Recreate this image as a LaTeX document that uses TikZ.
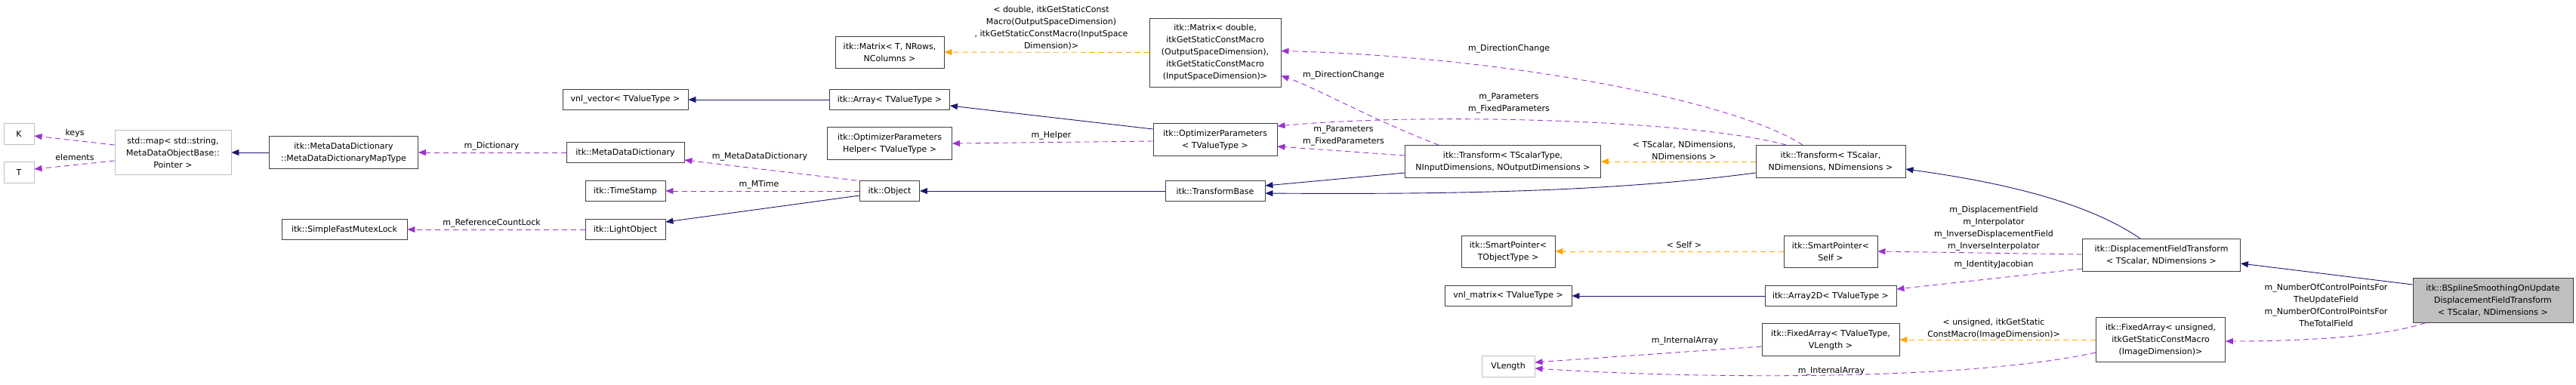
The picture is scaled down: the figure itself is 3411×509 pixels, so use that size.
\documentclass[tikz,border=0pt]{standalone}
\usepackage{fontspec}
\setmainfont{DejaVu Sans}
\usetikzlibrary{arrows.meta}
\newcommand{\fs}{\fontsize{11pt}{16pt}\selectfont}
\begin{document}
\begin{tikzpicture}[x=1pt,y=-1pt,
  box/.style={draw=black!75,fill=white,line width=0.9pt,align=center,inner sep=0pt,font=\fs},
  gbox/.style={box,draw=black!25},
  lbl/.style={font=\fs,align=center,inner sep=0pt},
  tip/.style={-{Triangle[length=10pt,width=8pt]}},
  inh/.style={tip,draw={rgb,255:red,25;green,25;blue,112},line width=0.9pt},
  use/.style={tip,draw={rgb,255:red,154;green,50;blue,205},dash pattern=on 7pt off 5pt,line width=0.9pt},
  tpl/.style={tip,draw={rgb,255:red,255;green,165;blue,0},dash pattern=on 7pt off 5pt,line width=0.9pt}]
\useasboundingbox (0,0) rectangle (3411,509);
% nodes
\node[gbox,minimum width=40,minimum height=28] (K) at (25,177) {K};
\node[gbox,minimum width=40,minimum height=28] (T) at (25,228) {T};
\node[gbox,minimum width=154,minimum height=59] (map) at (229,202) {std::map< std::string,\\ MetaDataObjectBase::\\ Pointer >};
\node[box,minimum width=197,minimum height=43] (mtype) at (455,202) {itk::MetaDataDictionary\\::MetaDataDictionaryMapType};
\node[box,minimum width=166,minimum height=27] (mutex) at (456,304) {itk::SimpleFastMutexLock};
\node[box,minimum width=144,minimum height=42] (matT) at (1178,69) {itk::Matrix< T, NRows,\\ NColumns >};
\node[box,minimum width=166,minimum height=27] (vnlv) at (828,132) {vnl\_vector< TValueType >};
\node[box,minimum width=159,minimum height=27] (arr) at (1178,132) {itk::Array< TValueType >};
\node[box,minimum width=165,minimum height=43] (help) at (1178,190) {itk::OptimizerParameters\\Helper< TValueType >};
\node[box,minimum width=156,minimum height=27] (mdd) at (828,202) {itk::MetaDataDictionary};
\node[box,minimum width=106,minimum height=27] (ts) at (828,253) {itk::TimeStamp};
\node[box,minimum width=79,minimum height=27] (obj) at (1178,253) {itk::Object};
\node[box,minimum width=106,minimum height=27] (lo) at (828,304) {itk::LightObject};
\node[box,minimum width=174,minimum height=91] (matD) at (1609,69.5) {itk::Matrix< double,\\ itkGetStaticConstMacro\\(OutputSpaceDimension),\\ itkGetStaticConstMacro\\(InputSpaceDimension)>};
\node[box,minimum width=164,minimum height=43] (op) at (1609,185) {itk::OptimizerParameters\\< TValueType >};
\node[box,minimum width=132,minimum height=27] (tb) at (1609,253) {itk::TransformBase};
\node[box,minimum width=259,minimum height=43] (t1) at (1990,214) {itk::Transform< TScalarType,\\ NInputDimensions, NOutputDimensions >};
\node[box,minimum width=124,minimum height=42] (spt) at (1997,333) {itk::SmartPointer<\\ TObjectType >};
\node[box,minimum width=168,minimum height=27] (vnlm) at (1997,392) {vnl\_matrix< TValueType >};
\node[gbox,minimum width=70,minimum height=28] (vl) at (1997,485) {VLength};
\node[box,minimum width=198,minimum height=43] (t2) at (2424,214) {itk::Transform< TScalar,\\ NDimensions, NDimensions >};
\node[box,minimum width=124,minimum height=42] (sps) at (2424,333) {itk::SmartPointer<\\ Self >};
\node[box,minimum width=174,minimum height=27] (a2d) at (2424,392) {itk::Array2D< TValueType >};
\node[box,minimum width=182,minimum height=43] (fav) at (2424,450) {itk::FixedArray< TValueType,\\ VLength >};
\node[box,minimum width=209,minimum height=43] (dft) at (2862,338) {itk::DisplacementFieldTransform\\< TScalar, NDimensions >};
\node[box,minimum width=171,minimum height=59] (fau) at (2861,450) {itk::FixedArray< unsigned,\\ itkGetStaticConstMacro\\ (ImageDimension)>};
\node[box,fill=black!25,minimum width=212,minimum height=59] (bs) at (3301,398) {itk::BSplineSmoothingOnUpdate\\DisplacementFieldTransform\\ < TScalar, NDimensions >};
% edges
\draw[use] ([yshift=10pt]map.west) -- ([yshift=-3pt]K.east);
\draw[use] ([yshift=-11pt]map.west) -- ([yshift=4pt]T.east);
\draw[inh] (mtype) -- (map);
\draw[use] (mdd) -- (mtype);
\draw[use] (lo) -- (mutex);
\draw[inh] ([yshift=-6pt]obj.west) -- ([yshift=10pt]lo.east);
\draw[use] (obj) -- (ts);
\draw[use] ([xshift=-4pt]obj.north west) -- ([yshift=-10pt]mdd.east);
\draw[inh] (arr) -- (vnlv);
\draw[inh] ([yshift=14pt]op.west) -- ([yshift=-8pt]arr.east);
\draw[use] ([yshift=-2pt]op.west) -- (help.east);
\draw[inh] (tb) -- (obj);
\draw[tpl] (matD) -- (matT);
\draw[inh] ([yshift=-15pt]t1.west) -- ([yshift=7pt]tb.east);
\draw[inh] ([yshift=-15pt]t2.west) .. controls (2150,252) and (1950,258) .. ([yshift=-3pt]tb.east);
\draw[use] ([xshift=-85pt]t1.north) .. controls (1820,160) and (1740,115) .. ([yshift=-31pt]matD.east);
\draw[use] ([yshift=8pt]t1.west) -- ([yshift=-9pt]op.east);
\draw[use] ([xshift=-37pt]t2.north) .. controls (2300,135) and (2000,75) .. ([yshift=2pt]matD.east);
\draw[use] ([xshift=-59pt]t2.north) .. controls (2250,160) and (1900,148) .. ([yshift=18pt]op.east);
\draw[tpl] (t2) -- (t1);
\draw[inh] ([xshift=-28pt]dft.north) .. controls (2760,265) and (2640,240) .. ([yshift=-10pt]t2.east);
\draw[use] ([yshift=1pt]dft.west) -- (sps.east);
\draw[tpl] (sps) -- (spt);
\draw[use] ([yshift=-18pt]dft.west) -- ([yshift=9pt]a2d.east);
\draw[inh] (a2d) -- (vnlm);
\draw[tpl] (fau) -- (fav);
\draw[use] ([yshift=-9pt]fav.west) -- ([yshift=5pt]vl.east);
\draw[use] ([yshift=-17pt]fau.west) .. controls (2600,505) and (2250,502) .. ([yshift=-3pt]vl.east);
\draw[inh] ([yshift=21pt]bs.west) -- ([yshift=-11pt]dft.east);
\draw[use] ([xshift=-90pt]bs.south) .. controls (3150,448) and (3030,452) .. ([yshift=-2pt]fau.east);
% labels
\node[lbl] (l1) at (99,176) {keys};
\node[lbl] (l2) at (99,208) {elements};
\node[lbl] (l3) at (651,194) {m\_Dictionary};
\node[lbl] (l4) at (651,296) {m\_ReferenceCountLock};
\node[lbl] (l5) at (1006,208) {m\_MetaDataDictionary};
\node[lbl] (l6) at (1005,245) {m\_MTime};
\node[lbl] (l7) at (1392,180) {m\_Helper};
\node[lbl] (l8) at (1392,37) {< double, itkGetStaticConst\\Macro(OutputSpaceDimension)\\, itkGetStaticConstMacro(InputSpace\\Dimension)>};
\node[lbl] (l9) at (1998,65) {m\_DirectionChange};
\node[lbl] (l10) at (1779,100) {m\_DirectionChange};
\node[lbl] (l11) at (1998,137) {m\_Parameters\\m\_FixedParameters};
\node[lbl] (l12) at (1779,180) {m\_Parameters\\m\_FixedParameters};
\node[lbl] (l13) at (2230,199) {< TScalar, NDimensions,\\NDimensions >};
\node[lbl] (l14) at (2230,324) {< Self >};
\node[lbl] (l15) at (2640,303) {m\_DisplacementField\\m\_Interpolator\\m\_InverseDisplacementField\\m\_InverseInterpolator};
\node[lbl] (l16) at (2640,351) {m\_IdentityJacobian};
\node[lbl] (l17) at (2640,435) {< unsigned, itkGetStatic\\ConstMacro(ImageDimension)>};
\node[lbl] (l18) at (2231,452) {m\_InternalArray};
\node[lbl] (l19) at (2425,492) {m\_InternalArray};
\node[lbl] (l20) at (3080,404) {m\_NumberOfControlPointsFor\\TheUpdateField\\m\_NumberOfControlPointsFor\\TheTotalField};
\end{tikzpicture}
\end{document}
